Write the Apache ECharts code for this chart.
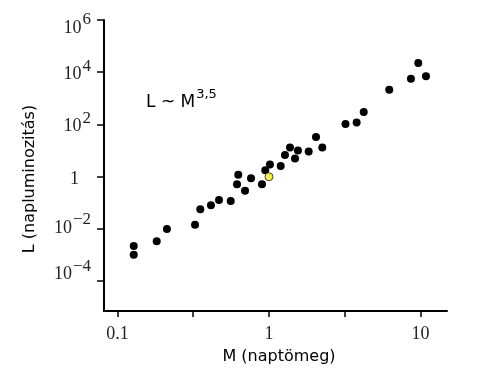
<!DOCTYPE html>
<html>
<head>
<meta charset="utf-8">
<script src="https://cdn.jsdelivr.net/npm/echarts@6/dist/echarts.min.js"></script>
<style>html,body{margin:0;padding:0;background:#fff;}#c{width:500px;height:375px;}</style>
</head>
<body>
<div id="c"></div>
<script>
// Star masses (solar masses) and luminosities (solar luminosities)
var mass = [0.128, 0.128, 0.1815, 0.212, 0.325, 0.352, 0.414, 0.468, 0.559, 0.627, 0.615, 0.695,
            0.761, 0.899, 0.945, 1.015, 1.195, 1.275, 1.376, 1.553, 1.485, 1.828, 2.043, 2.248,
            3.20, 3.79, 4.22, 6.22, 8.65, 9.67, 10.87];
var luminosity = [0.00224, 0.00102, 0.0034, 0.0100, 0.0144, 0.0575, 0.0815, 0.130, 0.119, 1.18, 0.52, 0.288,
                  0.88, 0.52, 1.79, 2.93, 2.55, 6.72, 13.1, 10.1, 4.98, 9.24, 32.9, 13.1,
                  104, 119, 299, 2140, 5630, 22500, 7100];
var sunMass = [1];
var sunLuminosity = [1];
var xTickValues = [0.1, 0.316, 1, 3.16, 10];
var xTickLabels = [0.1, 1, 10];
var yTickValues = [1e-4, 1e-2, 1, 1e2, 1e4, 1e6];

var lg = Math.log10;
function pts(xs, ys) { return xs.map(function (m, i) { return [lg(m), lg(ys[i])]; }); }

// per-label vertical nudge (px, positive = down) to match the reference's label placement
var nudge = { '6': 8, '4': 2, '2': 2, '0': 3, '-2': -1, '-4': -7 };
var yRich = {};
Object.keys(nudge).forEach(function (k) {
  var d = nudge[k];
  var T = 12 + Math.max(d, 0) * 2, B = 12 + Math.max(-d, 0) * 2;
  var key = k.replace('-', 'm');
  yRich['b' + key] = { fontFamily: 'Liberation Serif', fontSize: 18, color: '#222',
    lineHeight: 18, padding: [T, 0, B, 0] };
  yRich['s' + key] = { fontFamily: 'Liberation Serif', fontSize: 17, color: '#222',
    lineHeight: 18, padding: [T - 8, 0, B + 8, 1] };
});
yRich.gap = { width: 12, lineHeight: 18 };

var chart = echarts.init(document.getElementById('c'));
chart.setOption({
  animation: false,
  backgroundColor: '#fff',
  grid: { left: 104, right: 53, top: 20, bottom: 64, containLabel: false, outerBoundsMode: 'none' },
  xAxis: {
    type: 'value', min: -1.089, max: 1.175,
    splitLine: { show: false },
    axisLine: { show: true, onZero: false, lineStyle: { color: '#000', width: 2 } },
    axisTick: { show: true, length: 6, lineStyle: { color: '#000', width: 1.5 },
                customValues: xTickValues.map(lg) },
    axisLabel: { margin: 14, fontFamily: 'Liberation Serif', fontSize: 18, color: '#222',
                 customValues: xTickLabels.map(lg),
                 formatter: function (v) { return String(Math.round(Math.pow(10, v) * 10) / 10); } },
    name: 'M (naptömeg)', nameLocation: 'middle', nameGap: 38,
    nameTextStyle: { fontFamily: 'DejaVu Sans', fontSize: 16, color: '#000', padding: [0, 0, 0, 7] }
  },
  yAxis: {
    type: 'value', min: -5.14, max: 6,
    splitLine: { show: false },
    axisLine: { show: true, onZero: false, lineStyle: { color: '#000', width: 2 } },
    axisTick: { show: true, length: 7, lineStyle: { color: '#000', width: 1.5 },
                customValues: yTickValues.map(lg) },
    axisLabel: { margin: 13, color: '#222', showMaxLabel: true, hideOverlap: false,
                 customValues: yTickValues.map(lg),
                 formatter: function (v) {
                   var e = Math.round(v);
                   var k = String(e).replace('-', 'm');
                   if (e === 0) return '{b0|1}{gap|}';
                   return '{b' + k + '|10}{s' + k + '|' + (e < 0 ? '\u2212' + (-e) : e) + '}';
                 },
                 rich: yRich },
    name: 'L (napluminozitás)', nameLocation: 'middle', nameGap: 66,
    nameTextStyle: { fontFamily: 'DejaVu Sans', fontSize: 16, color: '#000', padding: [0, 27, 0, 0] }
  },
  series: [
    { type: 'scatter', data: pts(mass, luminosity), symbol: 'circle', symbolSize: 8,
      itemStyle: { color: '#000', opacity: 1 } },
    { type: 'scatter', data: pts(sunMass, sunLuminosity), symbol: 'circle', symbolSize: 8,
      itemStyle: { color: '#f4f040', borderColor: '#444', borderWidth: 1, opacity: 1 } }
  ],
  graphic: [{
    type: 'text', left: 146, top: 86,
    style: {
      text: '{m|L ~ M}{s|3,5}',
      rich: {
        m: { fontFamily: 'DejaVu Sans', fontSize: 17, fill: '#000', lineHeight: 20, padding: [8, 0, 0, 0] },
        s: { fontFamily: 'DejaVu Sans', fontSize: 13, fill: '#000', lineHeight: 20, padding: [0, 0, 8, 1] }
      }
    }
  }]
});
</script>
</body>
</html>
